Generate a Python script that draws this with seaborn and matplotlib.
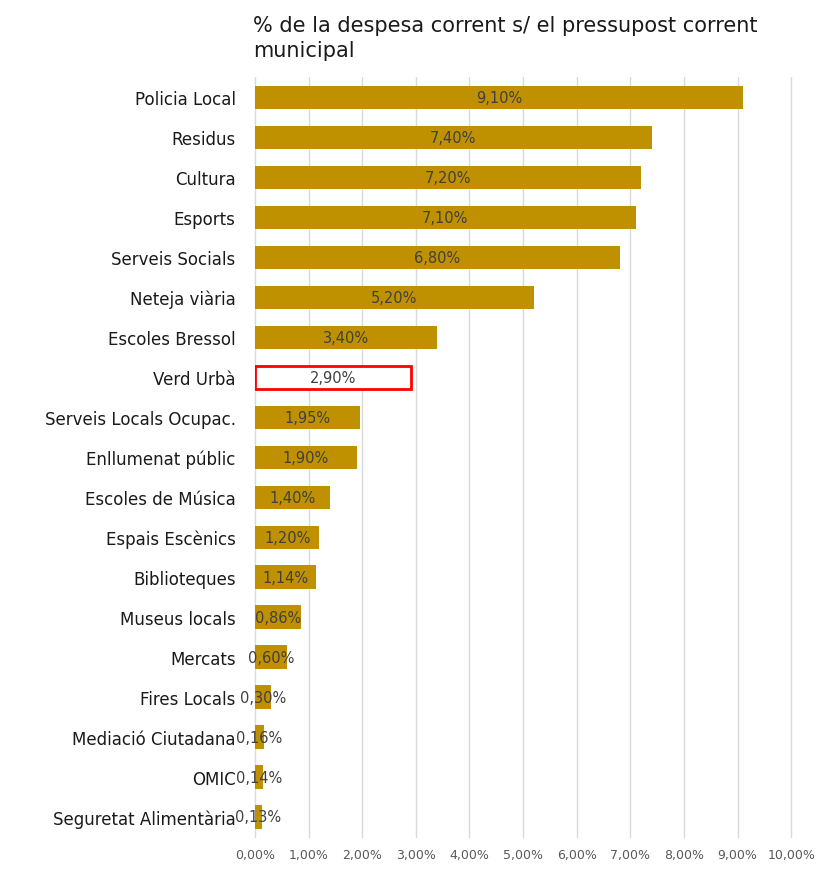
import matplotlib
matplotlib.use("Agg")
import matplotlib.pyplot as plt
import seaborn as sns
import pandas as pd

categories = ["Policia Local", "Residus", "Cultura", "Esports", "Serveis Socials",
              "Neteja viària", "Escoles Bressol", "Verd Urbà", "Serveis Locals Ocupac.",
              "Enllumenat públic", "Escoles de Música", "Espais Escènics", "Biblioteques",
              "Museus locals", "Mercats", "Fires Locals", "Mediació Ciutadana", "OMIC",
              "Seguretat Alimentària"]
values = [9.10, 7.40, 7.20, 7.10, 6.80, 5.20, 3.40, 2.90, 1.95, 1.90, 1.40, 1.20,
          1.14, 0.86, 0.60, 0.30, 0.16, 0.14, 0.13]
highlight = "Verd Urbà"
title = "% de la despesa corrent s/ el pressupost corrent\nmunicipal"

GOLD = "#BF9000"

sns.set_theme(style="white")
plt.rcParams["font.family"] = ["DejaVu Sans"]

df = pd.DataFrame({"cat": categories, "val": values})

fig = plt.figure(figsize=(8.32, 8.7), dpi=100)
ax = fig.add_axes([0.3065, 0.0368, 0.6445, 0.8732])

sns.barplot(data=df, y="cat", x="val", orient="h", color=GOLD, width=0.58,
            saturation=1, linewidth=0, ax=ax, zorder=2)

for patch, cat in zip(ax.patches, categories):
    if cat == highlight:
        patch.set_facecolor("white")
        patch.set_edgecolor("#FF0000")
        patch.set_linewidth(2)

for i, v in enumerate(values):
    ax.text(v / 2, i, f"{v:.2f}%".replace(".", ","), ha="center", va="center",
            fontsize=10.5, color="#404040", zorder=3)

ax.set_xlim(0, 10)
ax.set_xticks(range(0, 11))
ax.set_xticklabels([f"{t},00%" for t in range(0, 11)], fontsize=9, color="#595959")
ax.tick_params(axis="x", length=0, pad=8)
ax.tick_params(axis="y", length=0, pad=14, labelsize=12, labelcolor="#1a1a1a")
ax.xaxis.grid(True, color="#D9D9D9", lw=1, zorder=0)
for gl in ax.get_xgridlines():
    gl.set_clip_on(False)
ax.set_axisbelow(True)
for s in ax.spines.values():
    s.set_visible(False)
ax.set_xlabel("")
ax.set_ylabel("")
ax.set_ylim(len(values) - 0.5, -0.5)

fig.text(0.304, 0.982, title, ha="left", va="top", fontsize=15, color="#1a1a1a",
         linespacing=1.35)

fig.savefig("out.png", dpi=100)
